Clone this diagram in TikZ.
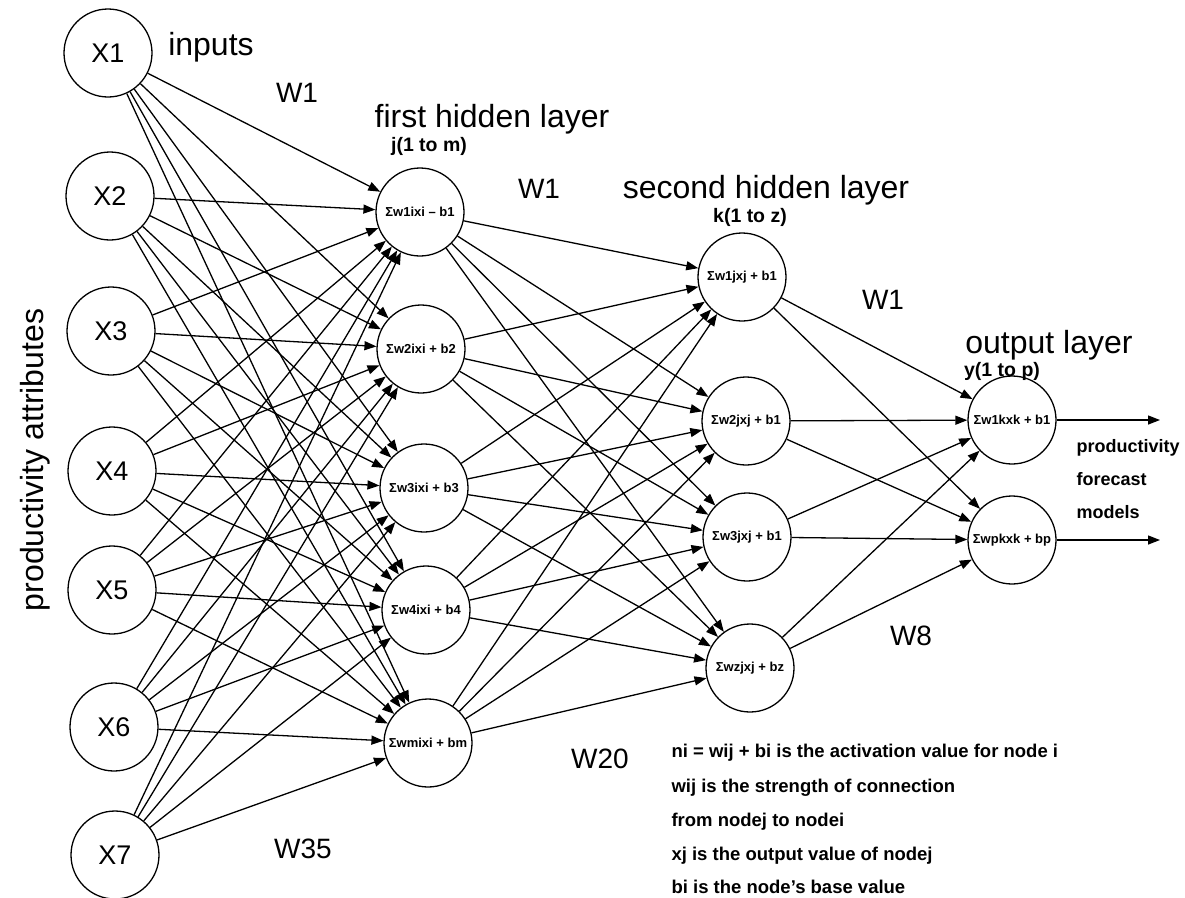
\documentclass[tikz,border=0pt]{standalone}
\usepackage{fontspec}
\setmainfont{Liberation Sans}
\usetikzlibrary{arrows.meta,positioning}

\begin{document}
\begin{tikzpicture}[
  x=1pt, y=-1pt,
  >={Triangle[length=12pt, width=9pt]},
  unit/.style={draw, circle, line width=1.3pt, minimum size=88pt, inner sep=0pt, font=\bfseries\fontsize{13}{15}\selectfont},
  inp/.style={unit, font=\fontsize{27}{30}\selectfont},
  arrow/.style={->, line width=1.3pt},
  title/.style={anchor=base, font=\fontsize{32}{36}\selectfont},
  sub/.style={anchor=base, font=\bfseries\fontsize{19.5}{22}\selectfont},
  wlab/.style={anchor=base, font=\fontsize{28}{32}\selectfont},
  note/.style={anchor=base west, font=\bfseries\fontsize{18.5}{21}\selectfont}
]
  \useasboundingbox[fill=white] (0,0) rectangle (1185,897);

  % input layer
  \foreach \i/\x/\y in {1/108/53, 2/110/196, 3/111/331, 4/112/471, 5/112/590, 6/114/727, 7/115/855}
    \node[inp] (x\i) at (\x,\y) {X\i};
  \node[rotate=90, font=\fontsize{32}{36}\selectfont] (attr) at (35,460) {productivity attributes};
  \node[title] (inp) at (211,55) {inputs};

  % first hidden layer
  \node[unit] (h1) at (420,212) {Σw1ixi – b1};
  \node[unit] (h2) at (421,349) {Σw2ixi + b2};
  \node[unit] (h3) at (424,488) {Σw3ixi + b3};
  \node[unit] (h4) at (426,610) {Σw4ixi + b4};
  \node[unit] (h5) at (428,743) {Σwmixi + bm};
  \node[title] (t1) at (492,127) {first hidden layer};
  \node[sub] (r1) at (429,151) {j(1 to m)};

  % second hidden layer
  \node[unit] (s1) at (742,277) {Σw1jxj + b1};
  \node[unit] (s2) at (746,421) {Σw2jxj + b1};
  \node[unit] (s3) at (747,537) {Σw3jxj + b1};
  \node[unit] (s4) at (750,668) {Σwzjxj + bz};
  \node[title] (t2) at (766,198) {second hidden layer};
  \node[sub] (r2) at (750,222) {k(1 to z)};

  % output layer
  \node[unit] (o1) at (1012,420) {Σw1kxk + b1};
  \node[unit] (o2) at (1012,540) {Σwpkxk + bp};
  \node[title] (t3) at (1049,353) {output layer};
  \node[sub] (r3) at (1002,376) {y(1 to p)};
  \coordinate (y1) at (1160,420);
  \coordinate (y2) at (1160,540);

  % connections
  \foreach \i in {1,...,7}
    \foreach \j in {1,...,5}
      \draw[arrow] (x\i) -- (h\j);
  \foreach \j in {1,...,5}
    \foreach \k in {1,...,4}
      \draw[arrow] (h\j) -- (s\k);
  \foreach \k in {1,...,4}
    \foreach \p in {1,2}
      \draw[arrow] (s\k) -- (o\p);
  \draw[arrow] (o1) -- (y1);
  \draw[arrow] (o2) -- (y2);

  % weights
  \node[wlab] (w1) at (297,102) {W1};
  \node[wlab] (w35) at (303,858) {W35};
  \node[wlab] (w1b) at (539,198) {W1};
  \node[wlab] (w20) at (600,768) {W20};
  \node[wlab] (w1c) at (883,309) {W1};
  \node[wlab] (w8) at (911,645) {W8};

  % forecast models
  \node[sub, anchor=base west, font=\bfseries\fontsize{18}{20}\selectfont] (f1) at (1073,452) {productivity};
  \node[sub, anchor=base west, font=\bfseries\fontsize{18}{20}\selectfont] (f2) at (1073,485) {forecast};
  \node[sub, anchor=base west, font=\bfseries\fontsize{18}{20}\selectfont] (f3) at (1073,518) {models};

  % notes
  \node[note] (n1) at (668,757) {ni = wij + bi is the activation value for node i};
  \node[note] (n2) at (668,792) {wij is the strength of connection};
  \node[note] (n3) at (668,826) {from nodej to nodei};
  \node[note] (n4) at (668,860) {xj is the output value of nodej};
  \node[note] (n5) at (668,893) {bi is the node's base value};
\end{tikzpicture}
\end{document}
